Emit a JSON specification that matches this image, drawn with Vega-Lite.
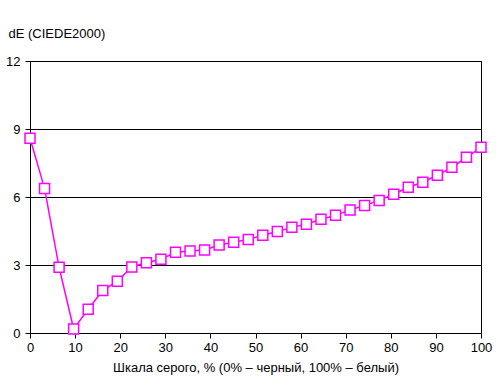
{
  "$schema": "https://vega.github.io/schema/vega-lite/v6.json",
  "width": 451,
  "height": 272,
  "autosize": {"type": "none"},
  "padding": {"left": 30, "top": 61, "right": 20, "bottom": 52},
  "background": "white",
  "config": {
    "font": "Liberation Sans",
    "view": {"stroke": "black", "strokeWidth": 1},
    "axis": {"labelFont": "Liberation Sans", "titleFont": "Liberation Sans", "labelColor": "black", "titleColor": "black", "domainColor": "black", "tickColor": "black", "gridColor": "black", "gridOpacity": 1, "labelFontSize": 13, "titleFontSize": 13, "titleFontWeight": "normal"}
  },
  "data": {
    "values": [
      {"x": 0, "y": 8.59},
      {"x": 3.226, "y": 6.38},
      {"x": 6.452, "y": 2.9},
      {"x": 9.677, "y": 0.18},
      {"x": 12.903, "y": 1.05},
      {"x": 16.129, "y": 1.88},
      {"x": 19.355, "y": 2.28},
      {"x": 22.581, "y": 2.91},
      {"x": 25.806, "y": 3.1},
      {"x": 29.032, "y": 3.25},
      {"x": 32.258, "y": 3.56},
      {"x": 35.484, "y": 3.62},
      {"x": 38.71, "y": 3.66},
      {"x": 41.935, "y": 3.88},
      {"x": 45.161, "y": 4.0},
      {"x": 48.387, "y": 4.13},
      {"x": 51.613, "y": 4.31},
      {"x": 54.839, "y": 4.48},
      {"x": 58.065, "y": 4.66},
      {"x": 61.29, "y": 4.8},
      {"x": 64.516, "y": 5.02},
      {"x": 67.742, "y": 5.19},
      {"x": 70.968, "y": 5.43},
      {"x": 74.194, "y": 5.63},
      {"x": 77.419, "y": 5.85},
      {"x": 80.645, "y": 6.12},
      {"x": 83.871, "y": 6.43},
      {"x": 87.097, "y": 6.65},
      {"x": 90.323, "y": 6.96},
      {"x": 93.548, "y": 7.31},
      {"x": 96.774, "y": 7.75},
      {"x": 100, "y": 8.19}
    ]
  },
  "encoding": {
    "x": {
      "field": "x", "type": "quantitative",
      "scale": {"domain": [0, 100], "nice": false, "zero": false},
      "axis": {"values": [0,10,20,30,40,50,60,70,80,90,100], "grid": false, "tickSize": 5, "labelPadding": 3, "title": "Шкала серого, % (0% – черный,  100% – белый)", "titlePadding": 7, "labelFlush": false}
    },
    "y": {
      "field": "y", "type": "quantitative",
      "scale": {"domain": [0, 12], "nice": false},
      "axis": {"values": [0,3,6,9,12], "grid": true, "tickSize": 5, "labelPadding": 5, "title": "dE (CIEDE2000)", "titleAngle": 0, "titleAlign": "left", "titleBaseline": "alphabetic", "titleX": -22, "titleY": -24}
    }
  },
  "layer": [
    {"mark": {"type": "line", "color": "#FF00FF", "strokeWidth": 1.5}},
    {"mark": {"type": "point", "shape": "square", "size": 100, "filled": true, "fill": "white", "stroke": "#FF00FF", "strokeWidth": 1.5, "opacity": 1}}
  ]
}
